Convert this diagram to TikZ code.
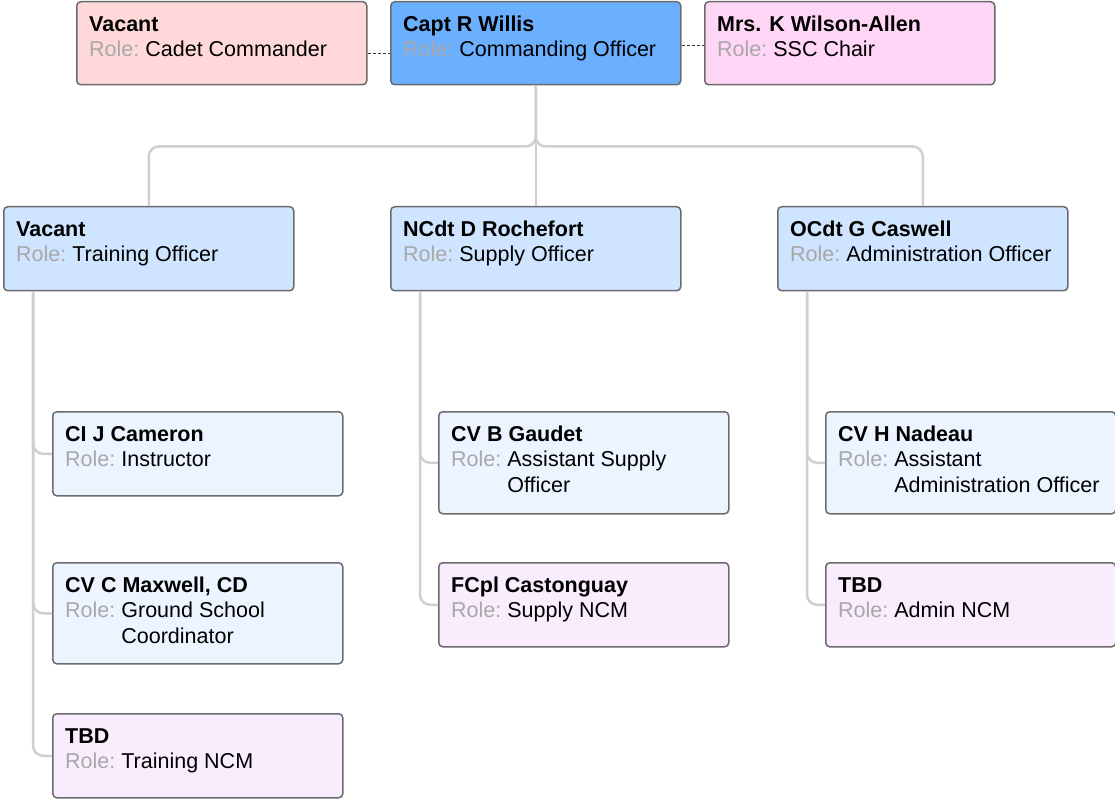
\documentclass[tikz,border=0pt]{standalone}
\usepackage{fontspec}
\setmainfont{Liberation Sans}
\usepackage{xcolor}
\usepackage{tikz}

\definecolor{cardline}{HTML}{6B6B6B}
\definecolor{rolegray}{HTML}{A8A8A8}
\definecolor{treeline}{HTML}{CFCFCF}
\definecolor{ccfill}{HTML}{FFD9D9}
\definecolor{cofill}{HTML}{6BAFFF}
\definecolor{sscfill}{HTML}{FFD6F5}
\definecolor{headfill}{HTML}{CFE4FF}
\definecolor{stafffill}{HTML}{EBF4FF}
\definecolor{ncmfill}{HTML}{F9EDFD}

% name and role of one person
\newcommand{\who}[2]{\begin{tabular}[t]{@{}l@{\hspace{6pt}}l@{}}
\multicolumn{2}{@{}l@{}}{\bfseries #1}\\
\textcolor{rolegray}{Role:} & #2
\end{tabular}}

\tikzset{
  card/.style={draw=cardline, line width=1.5pt, rounded corners=4pt,
    anchor=north west, minimum width=290pt, minimum height=#1,
    inner sep=0pt, label distance=0pt},
  card/.default=84pt,
  whotext/.style={anchor=north west, inner sep=0pt, xshift=13pt, yshift=-12pt,
    font=\fontsize{21.5pt}{25.5pt}\selectfont},
  tree/.style={draw=treeline, line width=2.5pt, rounded corners=10pt},
  dashline/.style={draw=black!80, line width=0.8pt, dash pattern=on 3pt off 2pt}
}

\begin{document}
\begin{tikzpicture}[x=1pt, y=-1pt]
\useasboundingbox (0,0) rectangle (1115,799);

% Top row
\node[card=83pt, fill=ccfill, label={[whotext]north west:\who{Vacant}{Cadet Commander}}] (cc) at (76,1) {};
\node[card=83pt, fill=cofill, label={[whotext]north west:\who{Capt R Willis}{Commanding Officer}}] (co) at (390,1) {};
\node[card=83pt, fill=sscfill, label={[whotext]north west:\who{Mrs. K Wilson-Allen}{SSC Chair}}] (ssc) at (704,1) {};

% Officers
\node[card, fill=headfill, label={[whotext]north west:\who{Vacant}{Training Officer}}] (trg) at (3,206) {};
\node[card, fill=headfill, label={[whotext]north west:\who{NCdt D Rochefort}{Supply Officer}}] (sup) at (390,206) {};
\node[card, fill=headfill, label={[whotext]north west:\who{OCdt G Caswell}{Administration Officer}}] (adm) at (777,206) {};

% Training staff
\node[card, fill=stafffill, label={[whotext]north west:\who{CI J Cameron}{Instructor}}] (cam) at (52,411) {};
\node[card=101pt, fill=stafffill, label={[whotext]north west:\who{CV C Maxwell, CD}{Ground School\\ & Coordinator}}] (max) at (52,562) {};
\node[card, fill=ncmfill, label={[whotext]north west:\who{TBD}{Training NCM}}] (tncm) at (52,713) {};

% Supply staff
\node[card=102pt, fill=stafffill, label={[whotext]north west:\who{CV B Gaudet}{Assistant Supply\\ & Officer}}] (gau) at (438,411) {};
\node[card, fill=ncmfill, label={[whotext]north west:\who{FCpl Castonguay}{Supply NCM}}] (cas) at (438,562) {};

% Admin staff
\node[card=102pt, fill=stafffill, label={[whotext]north west:\who{CV H Nadeau}{Assistant\\ & Administration Officer}}] (nad) at (825,411) {};
\node[card, fill=ncmfill, label={[whotext]north west:\who{TBD}{Admin NCM}}] (ancm) at (825,562) {};

% Links to CO
\draw[dashline] ([yshift=-10.5pt]cc.east) -- ([yshift=-10.5pt]co.west);
\draw[dashline] ([yshift=-2.5pt]co.east) -- ([yshift=-2.5pt]ssc.west);

% Reporting lines
\draw[tree] (co.south) -- ++(0,61) -| (trg.north);
\draw[tree] (co.south) -- ++(0,61) -| (adm.north);
\draw[tree] (co.south) -- (sup.north);

\foreach \boss/\staff in {trg/cam, trg/max, trg/tncm, sup/gau, sup/cas, adm/nad, adm/ancm}
  \draw[tree] ([xshift=30pt]\boss.south west) |- (\staff.west);
\end{tikzpicture}
\end{document}
